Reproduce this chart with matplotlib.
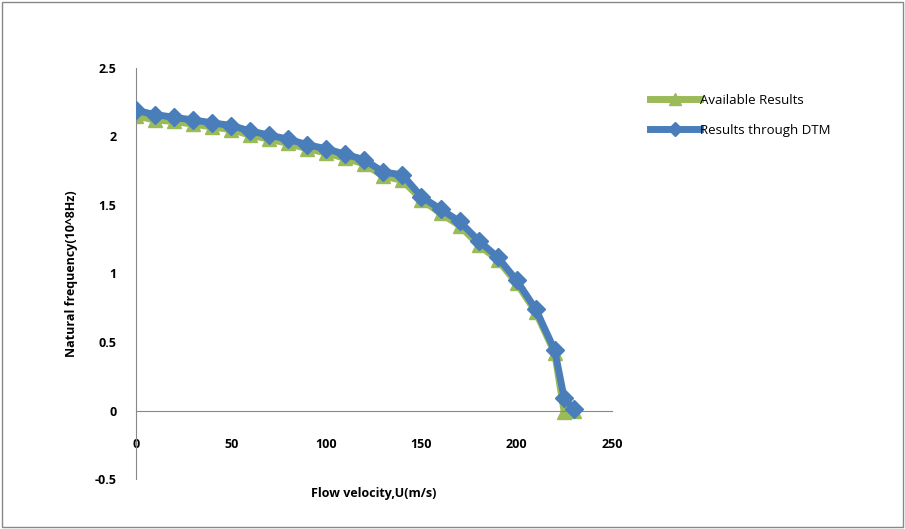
import numpy as np
import matplotlib
matplotlib.use("Agg")
import matplotlib.pyplot as plt
from matplotlib.patches import Rectangle

# flow velocity (m/s)
velocity = [0, 10, 20, 30, 40, 50, 60, 70, 80, 90, 100, 110, 120,
            130, 140, 150, 160, 170, 180, 190, 200, 210, 220, 225, 230]

# natural frequency (10^8 Hz)
available = [2.15, 2.12, 2.11, 2.09, 2.07, 2.05, 2.01, 1.98, 1.95, 1.91, 1.88, 1.84, 1.80,
             1.71, 1.68, 1.54, 1.44, 1.35, 1.21, 1.10, 0.93, 0.72, 0.42, -0.01, 0.0]
dtm = [2.19, 2.16, 2.14, 2.12, 2.10, 2.08, 2.04, 2.01, 1.98, 1.94, 1.91, 1.87, 1.83,
       1.74, 1.72, 1.56, 1.47, 1.38, 1.24, 1.12, 0.95, 0.74, 0.44, 0.09, 0.01]

xticks = [0, 50, 100, 150, 200, 250]
yticks = [-0.5, 0, 0.5, 1, 1.5, 2, 2.5]

green = "#9BBB59"
blue = "#4A7EBB"

plt.rcParams['font.family'] = ['Open Sans', 'DejaVu Sans']

fig = plt.figure(figsize=(9.05, 5.29), dpi=100)
fig.patches.append(Rectangle((0.002, 0.003), 0.996, 0.994, transform=fig.transFigure,
                             fill=False, edgecolor="#888888", lw=1))

ax = fig.add_axes([0.1503, 0.0945, 0.5257, 0.777])

ax.plot(velocity, available, color=green, lw=5, marker="^", markersize=10,
        label="Available Results", zorder=2)
ax.plot(velocity, dtm, color=blue, lw=5, marker="D", markersize=9,
        label="Results through DTM", zorder=3)

ax.set_xlim(0, 250)
ax.set_ylim(-0.5, 2.5)
ax.set_xticks(xticks)
ax.set_yticks(yticks)
ax.set_yticklabels([str(t) if t != int(t) else str(int(t)) for t in yticks])

for s in ["top", "right"]:
    ax.spines[s].set_visible(False)
ax.spines["bottom"].set_position(("data", 0))
ax.spines["bottom"].set_color("#888888")
ax.spines["left"].set_color("#888888")
ax.tick_params(axis="both", length=0, labelsize=9)
ax.tick_params(axis="x", pad=20)
ax.tick_params(axis="y", pad=14)
for lab in ax.get_xticklabels() + ax.get_yticklabels():
    lab.set_fontweight("bold")

ax.set_ylabel("Natural frequency(10^8Hz)", fontsize=9, fontweight="bold", labelpad=12)
ax.set_xlabel("Flow velocity,U(m/s)", fontsize=9, fontweight="bold")
ax.xaxis.set_label_coords(0.5, -0.02)

leg = fig.legend(loc="upper left", bbox_to_anchor=(0.705, 0.845), frameon=False,
                 fontsize=9.5, handlelength=3.8, handletextpad=0.0, labelspacing=1.3,
                 markerscale=0.8)

fig.savefig("out.png", dpi=100)
